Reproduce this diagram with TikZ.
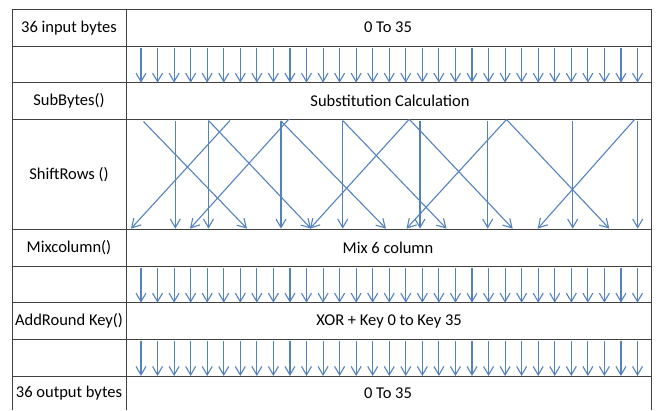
\documentclass[tikz,border=0pt]{standalone}
\usepackage{fontspec}
\setmainfont{Carlito}
\usepackage{xcolor}
\usepackage{tikz}
\usetikzlibrary{arrows.meta}
\definecolor{bytearrow}{RGB}{84,130,190}

\begin{document}
\begin{tikzpicture}[x=1pt,y=-1pt,font=\fontsize{16.5}{19}\selectfont]
    \tikzstyle{rowname} = [text centered, inner sep=0pt]
    \tikzstyle{rowtext} = [text centered, inner sep=0pt]
    \tikzstyle{byteline} = [draw=bytearrow, line width=1.1pt, -{Straight Barb[length=8.5pt,width=10pt]}]
    \tikzstyle{grid} = [draw=black!75, line width=1pt]
    \useasboundingbox (0,0) rectangle (656,410);
    % table frame
    \draw [grid] (12.7,410) -- (12.7,9.3) -- (651,9.3) -- (651,410);
    \draw [grid] (126,9.3) -- (126,410);
    \foreach \y in {46,82.7,119.3,229.3,266,302.7,339.3,376}
        \draw [grid] (12.7,\y) -- (651,\y);
    % left column
    \node [rowname] (inName) at (69,27.7) {36 input bytes};
    \node [rowname] (subName) at (69,101) {SubBytes()};
    \node [rowname] (shiftName) at (69,174.3) {ShiftRows ()};
    \node [rowname] (mixName) at (69,247.7) {Mixcolumn()};
    \node [rowname] (keyName) at (69,321) {AddRound Key()};
    \node [rowname] (outName) at (69,393) {36 output bytes};
    % right column
    \node [rowtext] (inText) at (388,27.7) {0 To 35};
    \node [rowtext] (subText) at (390,101) {Substitution Calculation};
    \node [rowtext] (mixText) at (388,247.7) {Mix 6 column};
    \node [rowtext] (keyText) at (389,321) {XOR + Key 0 to Key 35};
    \node [rowtext] (outText) at (388,393) {0 To 35};
    % one arrow per byte
    \foreach \yt/\yb/\r in {46/82.7/a, 266/302.7/b, 339.3/376/c}
        \foreach \i in {0,...,30} {
            \coordinate (\r top\i) at (141+16.55*\i,\yt+1.5);
            \coordinate (\r bot\i) at (141+16.55*\i,\yb);
            \draw [byteline] (\r top\i) -- (\r bot\i);
        }
    % shift rows
    \foreach \n/\xa/\ya/\xb in {1/175.3/120.5/175.3, 2/208.5/120.5/208.5, 3/281/120.5/281,
            4/342.7/120.5/342.7, 5/420/120.5/420, 6/487.7/120.5/487.7, 7/572.7/120.5/572.7,
            8/637.7/120.5/637.7, 9/143.5/121.5/247, 10/208.5/120.5/311, 11/230/120.5/131,
            12/289/119/190, 13/281/121/386, 14/342.7/120.5/446.5, 15/409/119.5/310,
            16/409.5/119.5/512.7, 17/506.5/119.5/406.5, 18/506.5/119.5/609.3, 19/635/119/537.7} {
        \coordinate (s\n) at (\xa,\ya);
        \coordinate (t\n) at (\xb,228.6);
        \draw [byteline] (s\n) -- (t\n);
    }
\end{tikzpicture}
\end{document}
